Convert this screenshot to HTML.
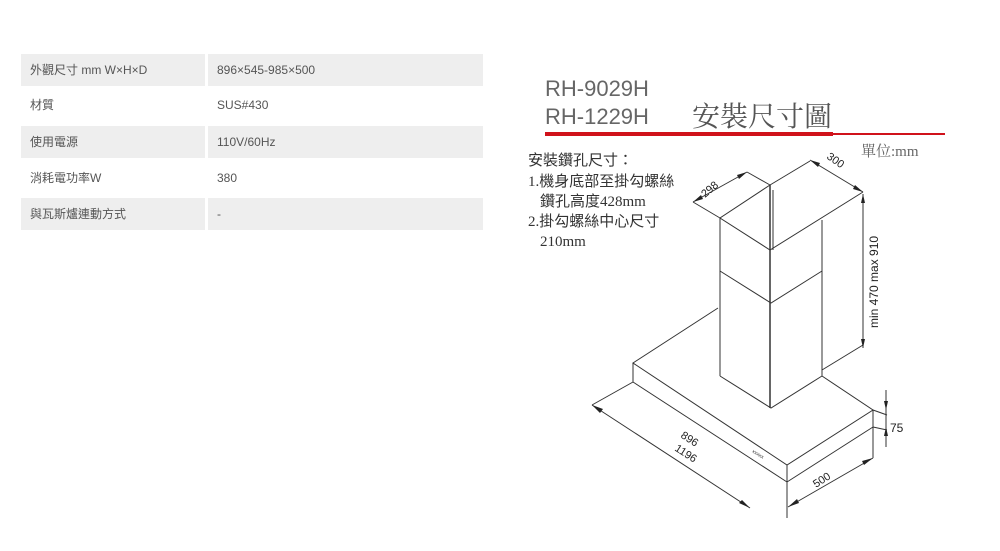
<!DOCTYPE html>
<html><head><meta charset="utf-8"><style>
html,body{margin:0;padding:0;background:#fff;}
body{width:1000px;height:551px;position:relative;overflow:hidden;font-family:"Liberation Sans","Noto Sans CJK TC",sans-serif;}
.r{position:absolute;left:21px;width:462px;height:32px;}
.c1,.c2{position:absolute;top:0;height:32px;line-height:32px;font-size:12px;color:#555;}
.c1{left:0;width:184px;padding-left:9px;box-sizing:border-box;}
.c2{left:187px;width:275px;padding-left:9px;box-sizing:border-box;}
.g .c1,.g .c2{background:#eeeeee;}
</style></head><body>
<div class="r g" style="top:54px"><div class="c1">外觀尺寸 mm W×H×D</div><div class="c2">896×545-985×500</div></div>
<div class="r" style="top:89px"><div class="c1">材質</div><div class="c2">SUS#430</div></div>
<div class="r g" style="top:126px"><div class="c1">使用電源</div><div class="c2">110V/60Hz</div></div>
<div class="r" style="top:162px"><div class="c1">消耗電功率W</div><div class="c2">380</div></div>
<div class="r g" style="top:198px"><div class="c1">與瓦斯爐連動方式</div><div class="c2">-</div></div>

<svg width="1000" height="551" style="position:absolute;left:0;top:0" xmlns="http://www.w3.org/2000/svg">
<g font-family="Liberation Sans, sans-serif" fill="#666">
<text x="545" y="96" font-size="22">RH-9029H</text>
<text x="545" y="124" font-size="22">RH-1229H</text>
</g>
<text x="692" y="126" font-size="28" fill="#555" font-family="Noto Serif CJK SC, serif">安裝尺寸圖</text>
<rect x="545" y="132" width="288" height="4" fill="#d0121b"/>
<rect x="833" y="133" width="112" height="2" fill="#d0121b"/>
<text x="861" y="156" font-size="15" fill="#666" font-family="Liberation Serif, Noto Serif CJK SC, serif">單位:mm</text>
<g font-size="15" fill="#333" font-family="Liberation Serif, Noto Sans CJK TC, serif">
<text x="528" y="165">安裝鑽孔尺寸：</text>
<text x="528" y="186">1.機身底部至掛勾螺絲</text>
<text x="540" y="206">鑽孔高度428mm</text>
<text x="528" y="226">2.掛勾螺絲中心尺寸</text>
<text x="540" y="246">210mm</text>
</g>
<g stroke="#333" stroke-width="1" fill="none">
<polyline points="770,185 720,218 770,250 863,192"/>
<line x1="770" y1="185" x2="810" y2="161"/>
<line x1="720" y1="218" x2="693" y2="202"/>
<line x1="770" y1="185" x2="747" y2="172"/>
<line x1="693" y1="202" x2="747" y2="172"/>
<line x1="810" y1="160" x2="863" y2="192"/>
<line x1="770" y1="185" x2="770" y2="408" stroke-width="1.5"/>
<line x1="773" y1="190" x2="773" y2="250"/>
<line x1="720" y1="218" x2="720" y2="376"/>
<line x1="822" y1="220" x2="822" y2="376"/>
<polyline points="720,271 771,303 822,271"/>
<polyline points="720,376 771,408 822,376"/>
<line x1="863" y1="194" x2="863" y2="348"/>
<line x1="863" y1="345" x2="822" y2="370"/>
<polyline points="718,308 633,363 787,465 873,410 822,376"/>
<line x1="633" y1="363" x2="633" y2="382"/>
<line x1="633" y1="382" x2="787" y2="482"/>
<line x1="787" y1="482" x2="873" y2="427"/>
<line x1="873" y1="410" x2="873" y2="458"/>
<line x1="787" y1="465" x2="787" y2="518"/>
<line x1="873" y1="410" x2="887" y2="415"/>
<line x1="873" y1="427" x2="887" y2="430"/>
<line x1="633" y1="382" x2="592" y2="405"/>
<line x1="592" y1="405" x2="750" y2="508"/>
<line x1="788" y1="507" x2="873" y2="458"/>
<line x1="886" y1="390" x2="886" y2="447"/>
</g>
<g fill="#222">
<polygon points="592,405 603,409 600,413"/>
<polygon points="750,508 739,503 742,500"/>
<polygon points="788,507 797,499 799,503"/>
<polygon points="873,458 864,465 862,461"/>
<polygon points="693,202 701,195 703,199"/>
<polygon points="747,172 739,179 737,175"/>
<polygon points="810,160 820,163 818,167"/>
<polygon points="863,192 853,189 855,185"/>
<polygon points="863,194 861,203 865,203"/>
<polygon points="863,348 861,339 865,339"/>
<polygon points="886,410 884,401 888,401"/>
<polygon points="886,427 884,436 888,436"/>
</g>
<g font-family="Liberation Sans, sans-serif" fill="#222" font-size="11">
<text transform="translate(705,198) rotate(-40)">298</text>
<text transform="translate(826,158) rotate(35)">300</text>
<text transform="translate(878,328) rotate(-90)" font-size="12">min 470 max 910</text>
<text x="890" y="432" font-size="12">75</text>
<text transform="translate(680,437) rotate(33)">896</text>
<text transform="translate(674,450) rotate(33)">1196</text>
<text transform="translate(816,488) rotate(-33)">500</text>
<text transform="translate(752,452) rotate(33)" font-size="5">xxxxx</text>
</g>
</svg>
</body></html>
